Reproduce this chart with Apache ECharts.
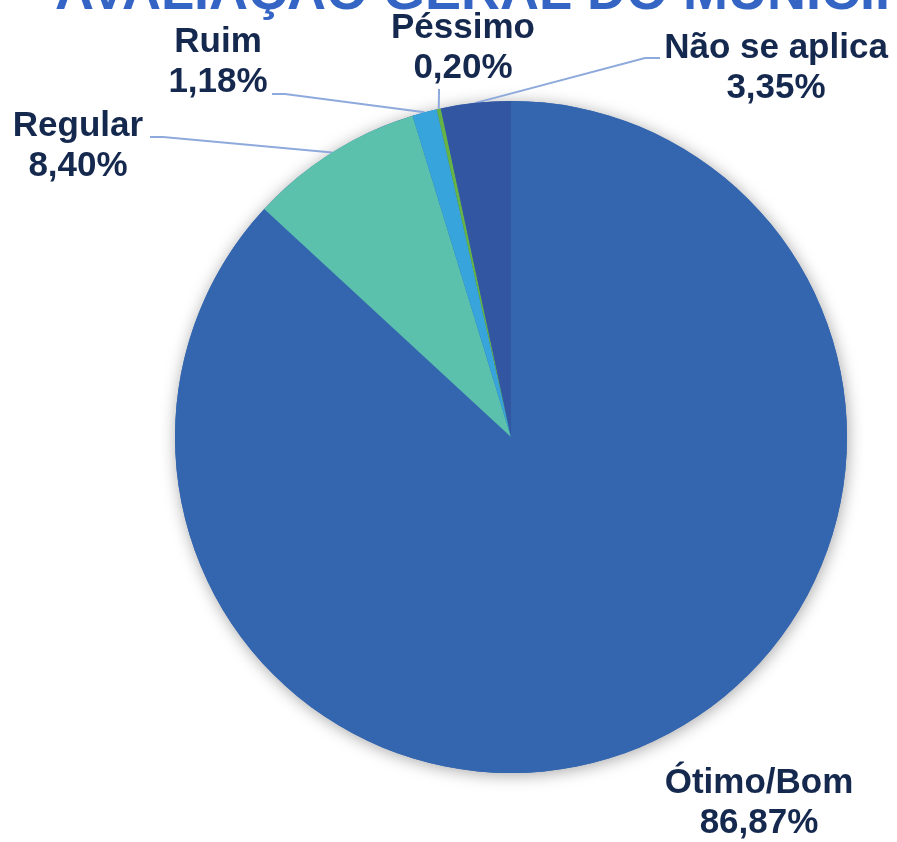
<!DOCTYPE html>
<html>
<head>
<meta charset="utf-8">
<script src="https://cdn.jsdelivr.net/npm/echarts@6/dist/echarts.min.js"></script>
<style>
html,body{margin:0;padding:0;background:#fff;}
#chart{width:897px;height:842px;}
</style>
</head>
<body>
<div id="chart"></div>
<script>
const titleText = 'AVALIAÇÃO GERAL DO MUNICÍPIO';
const categories = ['Ótimo/Bom', 'Regular', 'Ruim', 'Péssimo', 'Não se aplica'];
const values = [86.87, 8.40, 1.18, 0.20, 3.35];
const colors = ['#3466b0', '#5bc0ac', '#37a4dc', '#66b446', '#3356a3'];

// label placement (centre of two-line label) and leader line bend points
const labelPos = [
  {x: 759, y: 803, line: null},
  {x: 78, y: 146, line: [[163, 137], [150, 137]]},
  {x: 218, y: 62, line: [[285, 94], [272, 94]]},
  {x: 463, y: 48, line: [[439, 92], [439, 89]]},
  {x: 776, y: 68, line: [[645, 58], [660, 58]]}
];

const fmt = v => v.toFixed(2).replace('.', ',') + '%';

const chart = echarts.init(document.getElementById('chart'));
chart.setOption({
  backgroundColor: '#fff',
  animation: false,
  graphic: [{
    type: 'text',
    left: 55,
    top: -33,
    style: {
      text: titleText,
      fill: '#3465c4',
      font: 'bold 54px "Liberation Sans", Arial, sans-serif'
    }
  }],
  series: [{
    type: 'pie',
    center: [511, 437],
    radius: [0, 336],
    silent: true,
    z: 1,
    label: {show: false},
    labelLine: {show: false},
    data: [{value: 1, itemStyle: {
      color: '#3466b0',
      shadowBlur: 16,
      shadowColor: 'rgba(0,0,0,0.35)',
      shadowOffsetX: 1,
      shadowOffsetY: 2
    }}]
  }, {
    type: 'pie',
    z: 2,
    center: [511, 437],
    radius: [0, 336],
    startAngle: 90,
    clockwise: true,
    avoidLabelOverlap: false,
    data: categories.map((c, i) => ({
      name: c,
      value: values[i],
      itemStyle: {color: colors[i]},
      labelLine: {show: i !== 0}
    })),
    label: {
      show: true,
      position: 'outside',
      formatter: p => p.name + '\n' + fmt(p.value),
      color: '#15284e',
      fontFamily: '"Liberation Sans", Arial, sans-serif',
      fontWeight: 'bold',
      fontSize: 35,
      lineHeight: 40,
      align: 'center'
    },
    labelLine: {
      show: true,
      length: 10,
      length2: 10,
      lineStyle: {color: '#8eaadc', width: 2}
    },
    labelLayout: function (params) {
      const lp = labelPos[params.dataIndex];
      const res = {x: lp.x, y: lp.y, align: 'center', verticalAlign: 'middle'};
      if (lp.line && params.labelLinePoints) {
        const p0 = params.labelLinePoints[0];
        res.labelLinePoints = [p0, lp.line[0], lp.line[1]];
      }
      return res;
    }
  }]
});
</script>
</body>
</html>
